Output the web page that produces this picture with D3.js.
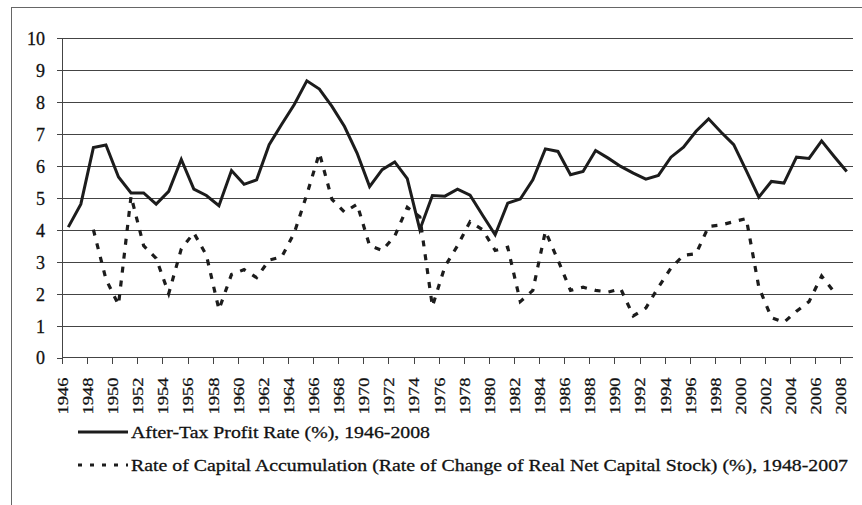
<!DOCTYPE html>
<html lang="en">
  <head>
    <meta charset="utf-8">
    <style type="text/css">
      body {
        margin: 0;
        background-color: white;
      }

      svg text {
        font-family: "Liberation Serif", serif;
        fill: #111;
        stroke: #111;
        stroke-width: 0.3px;
      }

      .grid line, .axis path, .axis line {
        stroke: #444;
        stroke-width: 1px;
        shape-rendering: crispEdges;
      }
    </style>
  </head>
  <body>
    <script src="https://cdn.jsdelivr.net/npm/d3@7/dist/d3.min.js" type="text/javascript"></script>
    <svg id="chart"></svg>

    <script type="text/javascript">
var width = 862;
var height = 505;
var margin = {
  top: 38,
  left: 62,
  right: 9,
  bottom: 147,
}

// years on the category axis
var years = d3.range(1946, 2009);
var yTicks = [0, 1, 2, 3, 4, 5, 6, 7, 8, 9, 10];

// After-Tax Profit Rate (%), 1946-2008
var profitRate = [
  4.08, 4.8, 6.57, 6.65, 5.65, 5.15, 5.15, 4.8, 5.2, 6.2,
  5.27, 5.07, 4.75, 5.85, 5.42, 5.56, 6.66, 7.3, 7.92, 8.66,
  8.4, 7.86, 7.23, 6.4, 5.35, 5.88, 6.12, 5.6, 4.0, 5.07,
  5.05, 5.27, 5.08, 4.45, 3.84, 4.83, 4.96, 5.56, 6.53, 6.45,
  5.72, 5.82, 6.48, 6.24, 5.98, 5.77, 5.58, 5.7, 6.27, 6.58,
  7.08, 7.47, 7.05, 6.66, 5.85, 5.02, 5.51, 5.46, 6.27, 6.23,
  6.78, 6.29, 5.82
];

// Rate of Capital Accumulation (%), 1948-2007
var accumYears = d3.range(1948, 2008);
var accumRate = [
  4.0, 2.45, 1.65, 5.05, 3.5, 3.1, 2.0, 3.4, 3.9, 3.2,
  1.5, 2.6, 2.75, 2.5, 3.05, 3.15, 3.9, 5.1, 6.4, 4.95,
  4.55, 4.8, 3.5, 3.35, 3.8, 4.7, 4.4, 1.6, 2.85, 3.5,
  4.25, 4.0, 3.35, 3.45, 1.75, 2.1, 3.95, 3.05, 2.1, 2.2,
  2.1, 2.05, 2.15, 1.3, 1.55, 2.2, 2.8, 3.2, 3.25, 4.1,
  4.15, 4.25, 4.35, 2.2, 1.25, 1.1, 1.45, 1.75, 2.55, 2.05
];

var legendLabels = [
  "After-Tax Profit Rate (%), 1946-2008",
  "Rate of Capital Accumulation (Rate of Change of Real Net Capital Stock) (%), 1948-2007"
];

var innerW = width - margin.left - margin.right;
var innerH = 357.5 - margin.top;

var root = d3.select("#chart")
  .attr("width", width)
  .attr("height", height);

// outer chart border (right and bottom fall off the picture)
root.append("rect")
  .attr("x", 11.5)
  .attr("y", 7.5)
  .attr("width", 900)
  .attr("height", 600)
  .style("fill", "none")
  .style("stroke", "#666")
  .style("stroke-width", 1);

var svg = root.append("g")
  .attr("transform", "translate(" + margin.left + "," + margin.top + ")");

var x = d3.scaleBand()
  .domain(years)
  .range([0, innerW]);

var y = d3.scaleLinear()
  .domain([0, 10])
  .range([innerH, 0]);

function cx(yr) { return x(yr) + x.bandwidth() / 2; }

// horizontal gridlines
svg.append("g")
  .attr("class", "grid")
  .selectAll("line")
  .data(yTicks.slice(1))
  .enter()
  .append("line")
  .attr("x1", 0)
  .attr("x2", innerW)
  .attr("y1", function(d) { return Math.round(y(d)) + 0.5; })
  .attr("y2", function(d) { return Math.round(y(d)) + 0.5; });

var yAxis = d3.axisLeft(y)
  .tickValues(yTicks)
  .tickSize(5)
  .tickPadding(12);

var yAxisGroup = svg.append("g")
  .attr("class", "axis")
  .call(yAxis);
yAxisGroup.select(".domain").attr("d", "M0.5,0V" + innerH);
yAxisGroup.selectAll(".tick text")
  .attr("font-size", 18)
  .attr("x", -17)
  .attr("dy", "0.36em");

// x axis: ticks on category boundaries every two years, labels centred on them
var tickYears = years.filter(function(d, i) { return i % 2 == 0; });

var xAxisGroup = svg.append("g")
  .attr("class", "axis")
  .attr("transform", "translate(0," + innerH + ")");

xAxisGroup.append("line")
  .attr("x1", 0)
  .attr("x2", innerW);

xAxisGroup.selectAll(".xt")
  .data(tickYears)
  .enter()
  .append("line")
  .attr("class", "xt")
  .attr("x1", function(d) { return Math.round(x(d)) + 0.5; })
  .attr("x2", function(d) { return Math.round(x(d)) + 0.5; })
  .attr("y1", 0)
  .attr("y2", 6);

xAxisGroup.selectAll(".xl")
  .data(tickYears)
  .enter()
  .append("text")
  .attr("class", "xl")
  .attr("transform", function(d) { return "translate(" + (x(d) + 0.5) + ",20) rotate(-90) scale(1,0.84)"; })
  .attr("dy", "0.35em")
  .attr("text-anchor", "end")
  .attr("font-size", 18.5)
  .text(function(d) { return d; });

var profitLine = d3.line()
  .x(function(d, i) { return cx(years[i]); })
  .y(function(d) { return y(d); });

var accumLine = d3.line()
  .x(function(d, i) { return cx(accumYears[i]); })
  .y(function(d) { return y(d); });

svg.append("path")
  .datum(accumRate)
  .attr("d", accumLine)
  .style("fill", "none")
  .style("stroke", "#1c1c1c")
  .style("stroke-width", 3.2)
  .style("stroke-dasharray", "6,8");

svg.append("path")
  .datum(profitRate)
  .attr("d", profitLine)
  .style("fill", "none")
  .style("stroke", "#1c1c1c")
  .style("stroke-width", 3)
  .style("stroke-linejoin", "miter");

// legend
var legendY = [432, 465];
var legendEnd = [430, 848];
var legend = root.append("g");

var items = legend.selectAll("g")
  .data(legendLabels)
  .enter()
  .append("g")
  .attr("transform", function(d, i) { return "translate(0," + legendY[i] + ")"; });

items.append("line")
  .attr("x1", 78)
  .attr("x2", 128)
  .attr("y1", 0)
  .attr("y2", 0)
  .style("stroke", "#1c1c1c")
  .style("stroke-width", 3)
  .style("stroke-dasharray", function(d, i) { return i == 1 ? "4,8" : null; });

items.append("text")
  .attr("x", 131)
  .attr("y", 0)
  .attr("dy", "0.35em")
  .attr("textLength", function(d, i) { return legendEnd[i] - 131; })
  .attr("lengthAdjust", "spacingAndGlyphs")
  .attr("font-size", 17.5)
  .text(function(d) { return d; });
    </script>
  </body>
</html>
